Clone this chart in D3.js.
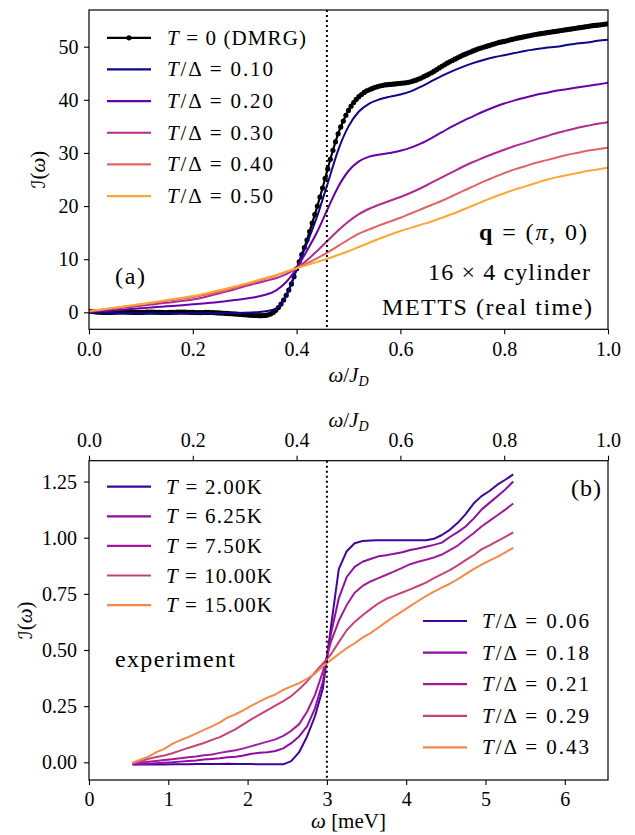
<!DOCTYPE html>
<html>
<head>
<meta charset="utf-8">
<script src="https://cdn.jsdelivr.net/npm/d3@7/dist/d3.min.js"></script>
<style>
html,body{margin:0;padding:0;background:#fff;}
svg{display:block;}
svg text, svg tspan{font-family:'Liberation Serif','Times New Roman',serif;}
svg tspan.script{font-family:'DejaVu Serif','DejaVu Sans',serif;}
</style>
</head>
<body>
<svg id="chart" width="635" height="835"></svg>
<script>
// ================= DATA =================
const omegaDMRG = [
0.000,0.005,0.010,0.015,0.020,0.025,0.030,0.035,0.040,0.045,
0.050,0.055,0.060,0.065,0.070,0.075,0.080,0.085,0.090,0.095,
0.100,0.105,0.110,0.115,0.120,0.125,0.130,0.135,0.140,0.145,
0.150,0.155,0.160,0.165,0.170,0.175,0.180,0.185,0.190,0.195,
0.200,0.205,0.210,0.215,0.220,0.225,0.230,0.235,0.240,0.245,
0.250,0.255,0.260,0.265,0.270,0.275,0.280,0.285,0.290,0.295,
0.300,0.305,0.310,0.315,0.320,0.325,0.330,0.335,0.340,0.345,
0.350,0.355,0.360,0.365,0.370,0.375,0.380,0.385,0.390,0.395,
0.400,0.405,0.410,0.415,0.420,0.425,0.430,0.435,0.440,0.445,
0.450,0.455,0.460,0.465,0.470,0.475,0.480,0.485,0.490,0.495,
0.500,0.505,0.510,0.515,0.520,0.525,0.530,0.535,0.540,0.545,
0.550,0.555,0.560,0.565,0.570,0.575,0.580,0.585,0.590,0.595,
0.600,0.605,0.610,0.615,0.620,0.625,0.630,0.635,0.640,0.645,
0.650,0.655,0.660,0.665,0.670,0.675,0.680,0.685,0.690,0.695,
0.700,0.705,0.710,0.715,0.720,0.725,0.730,0.735,0.740,0.745,
0.750,0.755,0.760,0.765,0.770,0.775,0.780,0.785,0.790,0.795,
0.800,0.805,0.810,0.815,0.820,0.825,0.830,0.835,0.840,0.845,
0.850,0.855,0.860,0.865,0.870,0.875,0.880,0.885,0.890,0.895,
0.900,0.905,0.910,0.915,0.920,0.925,0.930,0.935,0.940,0.945,
0.950,0.955,0.960,0.965,0.970,0.975,0.980,0.985,0.990,0.995,
1.000];
const intensityDMRG = [
0.20,0.15,0.10,0.05,0.02,0.00,-0.02,-0.03,-0.02,0.00,
0.02,0.04,0.05,0.05,0.04,0.02,0.00,-0.02,-0.03,-0.03,
-0.02,0.00,0.02,0.03,0.04,0.03,0.01,-0.01,-0.03,-0.04,
-0.04,-0.03,-0.01,0.01,0.03,0.04,0.04,0.03,0.01,-0.01,
-0.03,-0.04,-0.05,-0.05,-0.04,-0.03,-0.03,-0.04,-0.06,-0.09,
-0.12,-0.15,-0.18,-0.21,-0.24,-0.27,-0.30,-0.34,-0.38,-0.42,
-0.46,-0.50,-0.54,-0.57,-0.60,-0.62,-0.63,-0.62,-0.58,-0.48,
-0.30,-0.02,0.38,0.90,1.55,2.32,3.20,4.20,5.35,6.70,
8.20,9.50,10.85,12.20,13.60,15.20,16.80,18.40,20.00,21.70,
23.40,25.20,27.00,28.80,30.50,32.10,33.60,34.90,36.00,37.10,
38.00,38.80,39.50,40.10,40.60,41.00,41.40,41.70,41.90,42.10,
42.30,42.45,42.60,42.70,42.80,42.85,42.90,42.95,43.00,43.05,
43.10,43.15,43.20,43.30,43.40,43.55,43.70,43.90,44.10,44.35,
44.60,44.85,45.10,45.40,45.70,46.00,46.30,46.60,46.90,47.15,
47.40,47.65,47.90,48.15,48.40,48.60,48.80,49.00,49.20,49.40,
49.60,49.75,49.90,50.05,50.20,50.35,50.50,50.65,50.80,50.90,
51.00,51.12,51.25,51.37,51.50,51.60,51.70,51.80,51.90,52.00,
52.10,52.20,52.30,52.38,52.45,52.53,52.60,52.68,52.75,52.83,
52.90,52.98,53.05,53.13,53.20,53.28,53.35,53.43,53.50,53.58,
53.65,53.73,53.80,53.88,53.95,54.00,54.05,54.12,54.18,54.24,
54.30];

const omegaMETTS = [
0.00,0.02,0.04,0.06,0.08,0.10,0.12,0.14,0.16,0.18,
0.20,0.22,0.24,0.26,0.28,0.30,0.32,0.34,0.36,0.38,
0.40,0.42,0.44,0.46,0.48,0.50,0.52,0.54,0.56,0.58,
0.60,0.62,0.64,0.66,0.68,0.70,0.72,0.74,0.76,0.78,
0.80,0.82,0.84,0.86,0.88,0.90,0.92,0.94,0.96,0.98,
1.00];
const tempRatiosMETTS = ["0.10","0.20","0.30","0.40","0.50"];
const intensityT010 = [
0.0,-0.1,-0.15,-0.2,-0.2,-0.2,-0.2,-0.2,-0.2,-0.2,
-0.2,-0.2,-0.2,-0.2,-0.15,-0.1,0.0,0.2,0.7,3.0,
8.1,13.0,18.2,24.3,30.5,35.0,37.8,39.3,40.1,40.6,
41.0,41.6,42.5,43.5,44.5,45.4,46.2,46.9,47.5,48.0,
48.4,48.8,49.2,49.5,49.8,50.0,50.3,50.6,50.8,51.1,
51.3];
const intensityT020 = [
0.1,0.2,0.3,0.45,0.6,0.75,0.9,1.05,1.2,1.35,
1.5,1.65,1.85,2.05,2.3,2.55,2.85,3.3,4.1,5.7,
8.3,11.6,15.2,19.5,23.6,26.6,28.4,29.3,29.7,30.0,
30.4,31.0,31.8,32.8,33.9,35.0,36.0,36.9,37.8,38.6,
39.3,39.9,40.4,40.9,41.3,41.7,42.0,42.3,42.6,42.9,
43.2];
const intensityT030 = [
0.15,0.35,0.55,0.8,1.0,1.25,1.45,1.7,1.9,2.15,
2.4,2.8,3.3,3.8,4.3,4.9,5.4,5.9,6.4,7.2,
8.3,9.8,11.6,13.5,15.4,17.1,18.5,19.5,20.3,21.0,
21.7,22.5,23.4,24.4,25.4,26.4,27.4,28.3,29.1,29.9,
30.6,31.3,31.9,32.5,33.1,33.7,34.2,34.7,35.1,35.5,
35.8];
const intensityT040 = [
0.2,0.45,0.7,0.95,1.2,1.45,1.75,2.0,2.3,2.55,
2.85,3.2,3.6,4.05,4.6,5.15,5.7,6.3,6.9,7.6,
8.3,9.2,10.2,11.3,12.5,13.7,14.8,15.6,16.4,17.1,
17.8,18.6,19.4,20.2,21.0,21.9,22.8,23.7,24.6,25.4,
26.2,26.9,27.5,28.1,28.6,29.1,29.6,30.0,30.4,30.7,
31.0];
const intensityT050 = [
0.25,0.5,0.75,1.0,1.3,1.55,1.85,2.15,2.45,2.75,
3.05,3.45,3.9,4.35,4.85,5.35,5.9,6.45,7.0,7.65,
8.3,8.9,9.5,10.1,10.8,11.5,12.3,13.1,13.9,14.6,
15.3,15.9,16.5,17.1,17.8,18.5,19.3,20.1,20.9,21.7,
22.4,23.1,23.7,24.3,24.9,25.4,25.8,26.2,26.6,26.9,
27.2];

const energyExp = [
0.55,0.65,0.75,0.85,0.95,1.05,1.15,1.25,1.35,1.45,
1.55,1.65,1.75,1.85,1.95,2.05,2.15,2.25,2.35,2.45,
2.55,2.65,2.75,2.85,2.95,3.05,3.15,3.25,3.35,3.45,
3.55,3.65,3.75,3.85,3.95,4.05,4.15,4.25,4.35,4.45,
4.55,4.65,4.75,4.85,4.95,5.05,5.15,5.25,5.35];
const tempsKelvin = ["2.00","6.25","7.50","10.00","15.00"];
const tempRatiosExp = ["0.06","0.18","0.21","0.29","0.43"];
const intensity2K = [
-0.010,-0.010,-0.010,-0.010,-0.010,-0.009,-0.009,-0.009,-0.008,-0.008,
-0.008,-0.008,-0.007,-0.008,-0.008,-0.008,-0.009,-0.009,-0.009,-0.009,
0.005,0.045,0.115,0.205,0.330,0.600,0.860,0.940,0.975,0.985,
0.988,0.989,0.989,0.989,0.989,0.989,0.989,0.989,0.995,1.012,
1.035,1.066,1.105,1.152,1.185,1.208,1.236,1.258,1.282];
const intensity625K = [
-0.010,-0.008,-0.006,-0.004,-0.002,0.000,0.003,0.006,0.008,0.012,
0.015,0.018,0.022,0.025,0.030,0.038,0.042,0.045,0.050,0.062,
0.085,0.115,0.160,0.240,0.360,0.570,0.730,0.825,0.870,0.893,
0.905,0.917,0.922,0.929,0.935,0.945,0.952,0.960,0.968,0.978,
1.003,1.025,1.050,1.085,1.125,1.155,1.185,1.215,1.250];
const intensity750K = [
-0.006,-0.002,0.002,0.006,0.010,0.014,0.018,0.022,0.026,0.031,
0.035,0.042,0.048,0.054,0.062,0.072,0.082,0.092,0.102,0.118,
0.140,0.170,0.225,0.300,0.405,0.535,0.630,0.700,0.755,0.785,
0.805,0.820,0.835,0.850,0.866,0.882,0.893,0.902,0.912,0.925,
0.945,0.965,0.993,1.020,1.050,1.075,1.100,1.125,1.152];
const intensity10K = [
-0.004,0.004,0.016,0.024,0.030,0.040,0.052,0.064,0.075,0.086,
0.100,0.112,0.130,0.148,0.170,0.192,0.212,0.232,0.252,0.272,
0.295,0.325,0.360,0.400,0.440,0.480,0.535,0.588,0.625,0.655,
0.682,0.708,0.728,0.742,0.756,0.770,0.785,0.800,0.820,0.838,
0.856,0.877,0.900,0.922,0.948,0.966,0.985,1.004,1.024];
const intensity15K = [
-0.002,0.012,0.025,0.045,0.060,0.082,0.098,0.112,0.128,0.144,
0.160,0.178,0.200,0.214,0.232,0.252,0.270,0.288,0.302,0.322,
0.338,0.352,0.372,0.395,0.428,0.455,0.482,0.508,0.530,0.555,
0.575,0.600,0.625,0.650,0.672,0.695,0.718,0.740,0.760,0.778,
0.795,0.815,0.838,0.860,0.880,0.898,0.915,0.935,0.955];

const xTicksTop = [0.0,0.2,0.4,0.6,0.8,1.0];
const yTicksTop = [0,10,20,30,40,50];
const xTicksMeV = [0,1,2,3,4,5,6];
const xTicksJD = [0.0,0.2,0.4,0.6,0.8,1.0];
const yTicksBottom = [0.00,0.25,0.50,0.75,1.00,1.25];
const JD_meV = 6.545;
const gapEnergy_meV = 3.0;

// ================= DRAWING =================
const svg = d3.select("#chart");
svg.append("rect").attr("width",635).attr("height",835).attr("fill","#fff");

const L = 89, R = 608;
const PA = {t:10, b:329.3};
const PB = {t:460.7, b:780};

const xA = d3.scaleLinear().domain([0,1]).range([L,R]);
const yA = d3.scaleLinear().domain([-3.2,56.91]).range([PA.b,PA.t]);
const xB = d3.scaleLinear().domain([0,JD_meV]).range([L,R]);
const xBtop = d3.scaleLinear().domain([0,1]).range([L,R]);
const yB = d3.scaleLinear().domain([-0.0788,1.3428]).range([PB.b,PB.t]);

const colA = d3.scaleSequential(d3.interpolatePlasma).domain([0.10,0.60]);
const colB = d3.scaleSequential(d3.interpolatePlasma).domain([0,0.60]);

const defs = svg.append("defs");
defs.append("clipPath").attr("id","clipA").append("rect")
  .attr("x",L).attr("y",PA.t).attr("width",R-L).attr("height",PA.b-PA.t);
defs.append("clipPath").attr("id","clipB").append("rect")
  .attr("x",L).attr("y",PB.t).attr("width",R-L).attr("height",PB.b-PB.t);

function richText(parent, x, y, parts, opts){
  const t = parent.append("text").attr("x",x).attr("y",y)
    .style("font-size",opts.size+"px")
    .attr("text-anchor",opts.anchor||"start").attr("fill","#000");
  if(opts.transform) t.attr("transform",opts.transform);
  parts.forEach(p=>{
    const s = t.append("tspan").text(p.t);
    if(p.i) s.style("font-style","italic");
    if(p.b) s.style("font-weight","bold");
    if(p.cls) s.attr("class",p.cls);
    if(p.fs) s.style("font-size",p.fs+"px");
    if(p.dy) s.attr("dy",p.dy);
    if(p.dx) s.attr("dx",p.dx);
  });
  if(opts.width) t.attr("textLength",opts.width).attr("lengthAdjust","spacing");
  return t;
}

function styleAxis(g, textFn){
  g.attr("font-family",null).attr("font-size",null).attr("color","#000");
  g.select(".domain").remove();
  g.selectAll(".tick line").attr("stroke","#000").attr("stroke-width",1.1);
  g.selectAll(".tick text").attr("fill","#000").style("font-size","20px")
    .each(function(){ textFn(d3.select(this)); });
}

// ---------- Panel (a) ----------
const gA = svg.append("g").attr("clip-path","url(#clipA)");
const lineA = d3.line().x(d=>xA(d[0])).y(d=>yA(d[1]));
const dmrgPts = omegaDMRG.map((w,i)=>[w,intensityDMRG[i]]);
gA.append("path").datum(dmrgPts).attr("d",lineA).attr("fill","none")
  .attr("stroke","#000").attr("stroke-width",2.2);
gA.selectAll("circle.dmrg").data(dmrgPts).enter().append("circle")
  .attr("class","dmrg").attr("cx",d=>xA(d[0])).attr("cy",d=>yA(d[1]))
  .attr("r",2.6).attr("fill","#000");

const mettsSeries = [intensityT010,intensityT020,intensityT030,intensityT040,intensityT050];
const lineAs = d3.line().x(d=>xA(d[0])).y(d=>yA(d[1])).curve(d3.curveMonotoneX);
mettsSeries.forEach((s,k)=>{
  gA.append("path").datum(omegaMETTS.map((w,i)=>[w,s[i]])).attr("d",lineAs)
    .attr("fill","none").attr("stroke",colA(+tempRatiosMETTS[k])).attr("stroke-width",2);
});
gA.append("line").attr("x1",xA(gapEnergy_meV/JD_meV)).attr("x2",xA(gapEnergy_meV/JD_meV))
  .attr("y1",PA.t).attr("y2",PA.b).attr("stroke","#000").attr("stroke-width",2)
  .attr("stroke-dasharray","2,3");

svg.append("rect").attr("x",L).attr("y",PA.t).attr("width",R-L).attr("height",PA.b-PA.t)
  .attr("fill","none").attr("stroke","#000").attr("stroke-width",1.2);

svg.append("g").attr("transform",`translate(0,${PA.b})`)
  .call(d3.axisBottom(xA).tickValues(xTicksTop).tickFormat(d3.format(".1f")).tickSize(5).tickSizeOuter(0))
  .call(g=>styleAxis(g,t=>t.attr("y",26.4).attr("dy",null)));
svg.append("g").attr("transform",`translate(${L},0)`)
  .call(d3.axisLeft(yA).tickValues(yTicksTop).tickFormat(d3.format("d")).tickSize(5).tickSizeOuter(0))
  .call(g=>styleAxis(g,t=>t.attr("x",-10.5).attr("dy","0.33em")));

richText(svg, (L+R)/2, 382, [{t:"ω",i:1},{t:"/"},{t:"J",i:1},{t:"D",i:1,fs:14,dy:4}], {size:21,anchor:"middle"});
richText(svg, 0, 0, [{t:"ℐ",cls:"script",fs:19},{t:"("},{t:"ω",i:1},{t:")"}],
  {size:21,anchor:"middle",transform:`translate(45,${(PA.t+PA.b)/2}) rotate(-90)`});

const legA = svg.append("g");
const legAy0 = 37.8, legAdy = 31.65;
legA.append("line").attr("x1",107).attr("x2",151).attr("y1",legAy0).attr("y2",legAy0)
  .attr("stroke","#000").attr("stroke-width",2.2);
legA.append("circle").attr("cx",129).attr("cy",legAy0).attr("r",2.6).attr("fill","#000");
richText(legA, 167, legAy0+7, [{t:"T",i:1},{t:" = 0 (DMRG)"}], {size:21,width:139});
tempRatiosMETTS.forEach((r,k)=>{
  const y = legAy0 + legAdy*(k+1);
  legA.append("line").attr("x1",107).attr("x2",151).attr("y1",y).attr("y2",y)
    .attr("stroke",colA(+r)).attr("stroke-width",2.2);
  richText(legA, 167, y+7, [{t:"T",i:1},{t:"/Δ = "+r}], {size:21,width:106});
});

richText(svg, 587, 240, [{t:"q",b:1},{t:" = ("},{t:"π",i:1},{t:", 0)"}], {size:24,anchor:"end",width:108});
richText(svg, 590, 280, [{t:"16 × 4 cylinder"}], {size:24,anchor:"end",width:162});
richText(svg, 592, 315, [{t:"METTS (real time)"}], {size:24,anchor:"end",width:210});
richText(svg, 115, 284, [{t:"(a)"}], {size:24,width:30});

// ---------- Panel (b) ----------
const gB = svg.append("g").attr("clip-path","url(#clipB)");
const expSeries = [intensity2K,intensity625K,intensity750K,intensity10K,intensity15K];
const lineB = d3.line().x(d=>xB(d[0])).y(d=>yB(d[1]));
expSeries.forEach((s,k)=>{
  gB.append("path").datum(energyExp.map((e,i)=>[e,s[i]])).attr("d",lineB)
    .attr("fill","none").attr("stroke",colB(+tempRatiosExp[k])).attr("stroke-width",2)
    .attr("stroke-linejoin","round");
});
gB.append("line").attr("x1",xB(gapEnergy_meV)).attr("x2",xB(gapEnergy_meV))
  .attr("y1",PB.t).attr("y2",PB.b).attr("stroke","#000").attr("stroke-width",2)
  .attr("stroke-dasharray","2,3");

svg.append("rect").attr("x",L).attr("y",PB.t).attr("width",R-L).attr("height",PB.b-PB.t)
  .attr("fill","none").attr("stroke","#000").attr("stroke-width",1.2);

svg.append("g").attr("transform",`translate(0,${PB.b})`)
  .call(d3.axisBottom(xB).tickValues(xTicksMeV).tickFormat(d3.format("d")).tickSize(5).tickSizeOuter(0))
  .call(g=>styleAxis(g,t=>t.attr("y",26).attr("dy",null)));
svg.append("g").attr("transform",`translate(0,${PB.t})`)
  .call(d3.axisTop(xBtop).tickValues(xTicksJD).tickFormat(d3.format(".1f")).tickSize(5).tickSizeOuter(0))
  .call(g=>styleAxis(g,t=>t.attr("y",-14).attr("dy",null)));
svg.append("g").attr("transform",`translate(${L},0)`)
  .call(d3.axisLeft(yB).tickValues(yTicksBottom).tickFormat(d3.format(".2f")).tickSize(5).tickSizeOuter(0))
  .call(g=>styleAxis(g,t=>t.attr("x",-12).attr("dy","0.33em")));

richText(svg, (L+R)/2, 426.7, [{t:"ω",i:1},{t:"/"},{t:"J",i:1},{t:"D",i:1,fs:14,dy:4}], {size:21,anchor:"middle"});
richText(svg, (L+R)/2, 828, [{t:"ω",i:1},{t:" [meV]"}], {size:21,anchor:"middle"});
richText(svg, 0, 0, [{t:"ℐ",cls:"script",fs:19},{t:"("},{t:"ω",i:1},{t:")"}],
  {size:21,anchor:"middle",transform:`translate(32,${(PB.t+PB.b)/2}) rotate(-90)`});

const legB1 = svg.append("g");
tempsKelvin.forEach((K,k)=>{
  const y = 486.7 + 29.6*k;
  legB1.append("line").attr("x1",107).attr("x2",151).attr("y1",y).attr("y2",y)
    .attr("stroke",colB(+tempRatiosExp[k])).attr("stroke-width",2.2);
  richText(legB1, 166, y+7, [{t:"T",i:1},{t:" = "+K+"K"}], {size:21,width:K.length>4?106:96});
});
const legB2 = svg.append("g");
tempRatiosExp.forEach((r,k)=>{
  const y = 621 + 31.6*k;
  legB2.append("line").attr("x1",423).attr("x2",467).attr("y1",y).attr("y2",y)
    .attr("stroke",colB(+r)).attr("stroke-width",2.2);
  richText(legB2, 482, y+7, [{t:"T",i:1},{t:"/Δ = "+r}], {size:21,width:107});
});

richText(svg, 571, 496, [{t:"(b)"}], {size:24,width:30});
richText(svg, 115, 667, [{t:"experiment"}], {size:24,width:120});
</script>
</body>
</html>
